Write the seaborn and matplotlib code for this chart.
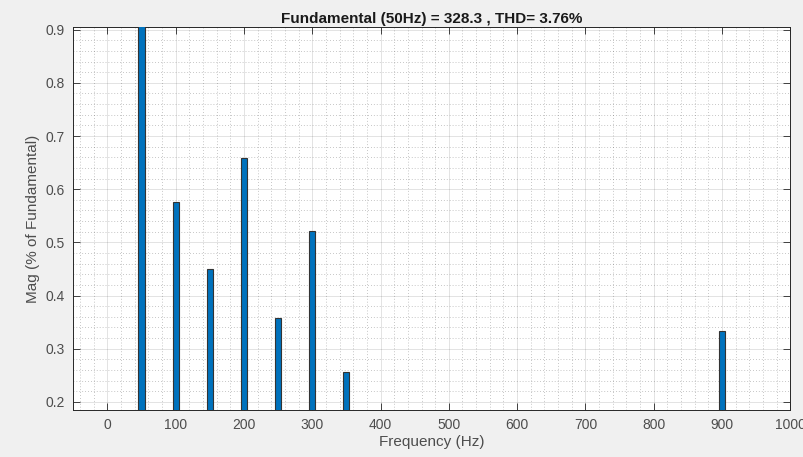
import numpy as np
import pandas as pd
import seaborn as sns
import matplotlib.pyplot as plt
from matplotlib.ticker import MultipleLocator

freq_hz = [50, 100, 150, 200, 250, 300, 350, 900]
mag_pct = [100.0, 0.575, 0.45, 0.658, 0.357, 0.521, 0.256, 0.333]
title_txt = "Fundamental (50Hz) = 328.3 , THD= 3.76%"

df = pd.DataFrame({"freq": freq_hz, "mag": mag_pct})

sns.set_style("white")
plt.rcParams['font.family'] = ['Liberation Sans', 'DejaVu Sans']

fig = plt.figure(figsize=(8.04, 4.57), dpi=100, facecolor="#f0f0f0")
ax = fig.add_axes([0.091, 0.103, 0.892, 0.838])
ax.set_facecolor("white")

sns.barplot(data=df, x="freq", y="mag", native_scale=True, width=0.18,
            color="#0072BD", saturation=1, edgecolor="#333333", linewidth=0.8,
            ax=ax, zorder=3)

ax.set_xlim(-50, 1000)
ax.set_ylim(0.185, 0.905)
ax.xaxis.set_major_locator(MultipleLocator(100))
ax.xaxis.set_minor_locator(MultipleLocator(20))
ax.yaxis.set_major_locator(MultipleLocator(0.1))
ax.yaxis.set_minor_locator(MultipleLocator(0.02))
ax.set_xticks(np.arange(0, 1001, 100))
ax.set_yticks(np.arange(0.2, 0.91, 0.1))
ax.set_yticklabels(["0.2", "0.3", "0.4", "0.5", "0.6", "0.7", "0.8", "0.9"])
ax.set_xticklabels([str(v) for v in range(0, 1001, 100)])

ax.grid(which="major", color="#262626", alpha=0.15, linewidth=0.6, zorder=0)
ax.grid(which="minor", color="#262626", alpha=0.35, linewidth=0.6,
        linestyle=(0, (1, 2.5)), zorder=0)
ax.set_axisbelow(True)

ax.tick_params(which="major", direction="in", length=5, top=True, right=True,
               bottom=True, left=True, labelsize=10, labelcolor="#4d4d4d",
               color="#262626", width=0.6, pad=6)
ax.tick_params(which="minor", length=0)
for s in ax.spines.values():
    s.set_color("#262626")
    s.set_linewidth(0.7)

ax.set_title(title_txt, fontsize=11, fontweight="bold", color="#1a1a1a", pad=3)
ax.set_xlabel("Frequency (Hz)", fontsize=11, color="#4d4d4d", labelpad=2)
ax.set_ylabel("Mag (% of Fundamental)", fontsize=11, color="#4d4d4d", labelpad=4)

fig.savefig("out.png", dpi=100, facecolor=fig.get_facecolor())
